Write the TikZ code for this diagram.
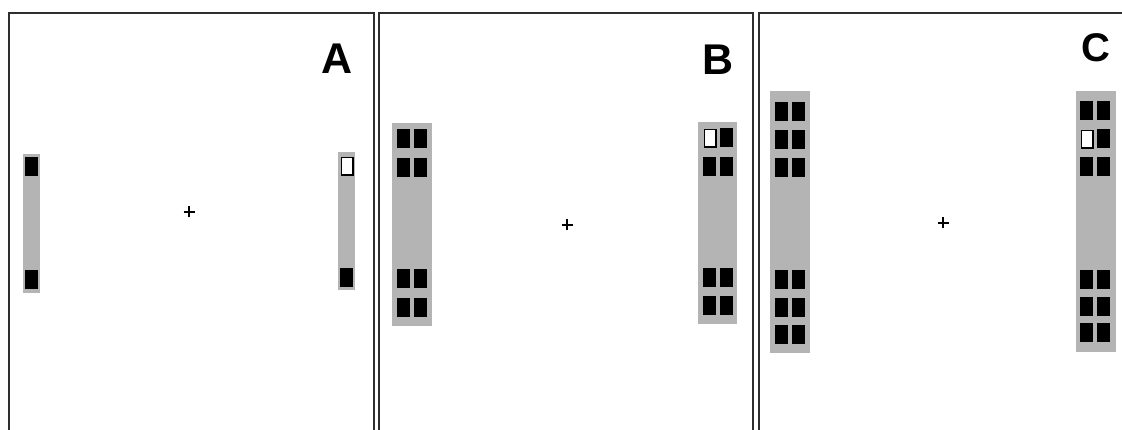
\documentclass[tikz,border=0pt]{standalone}
\usepackage{fontspec}
\setmainfont{Liberation Sans}
\usepackage{tikz}
\usetikzlibrary{calc,positioning}
\definecolor{framegray}{HTML}{2E2E2E}
\definecolor{bargray}{HTML}{B4B4B4}

\tikzset{
  panel/.style={rectangle, draw=framegray, line width=2pt, anchor=north west,
    inner sep=0pt, minimum height=440pt},
  bar/.style={rectangle, fill=bargray, anchor=north west, inner sep=0pt},
  pad/.style={rectangle, fill=black, anchor=north west, inner sep=0pt,
    minimum width=13pt, minimum height=19pt},
  emptypad/.style={rectangle, fill=white, draw=black, line width=1.6pt, anchor=north west,
    inner sep=0pt, minimum width=11.4pt, minimum height=17.4pt},
  letter/.style={font=\fontsize{43}{46}\selectfont\bfseries, inner sep=0pt},
  crossmark/.style={line width=1.7pt, black}
}

\begin{document}
\begin{tikzpicture}[x=1pt, y=-1pt]
  \useasboundingbox (0,0) rectangle (1122,430);
  \clip (0,0) rectangle (1122,430);

  % Panels
  \node[panel, minimum width=365pt] (panelA) at (8,12) {};
  \node[panel, minimum width=374pt] (panelB) at (378,12) {};
  \node[panel, minimum width=380pt] (panelC) at (758,12) {};

  % Labels
  \node[letter] (labelA) at (337,59) {A};
  \node[letter] (labelB) at (718,60) {B};
  \node[letter, font=\fontsize{40}{44}\selectfont\bfseries] (labelC) at (1096,48) {C};

  % Fixation crosses
  \coordinate (crossA) at (189,212);
  \coordinate (crossB) at (567,225);
  \coordinate (crossC) at (943,223);
  \foreach \c in {crossA,crossB,crossC}{
    \draw[crossmark] ([xshift=-5.5pt]\c) -- ([xshift=5.5pt]\c);
    \draw[crossmark] ([yshift=-5.5pt]\c) -- ([yshift=5.5pt]\c);
  }

  % A: single pads
  \node[bar, minimum width=17pt, minimum height=139pt] (barAL) at (23,154) {};
  \node[bar, minimum width=17pt, minimum height=138pt] (barAR) at (338,152) {};
  \foreach \dy in {3,116}
    \node[pad] (padAL-\dy) at ([xshift=2pt, yshift=-\dy pt]barAL.north west) {};
  \node[emptypad] (padAR-4) at ([xshift=2.8pt, yshift=-4.8pt]barAR.north west) {};
  \node[pad] (padAR-116) at ([xshift=2pt, yshift=-116pt]barAR.north west) {};

  % B: two rows on each end
  \node[bar, minimum width=40pt, minimum height=203pt] (barBL) at (392,123) {};
  \node[bar, minimum width=39pt, minimum height=202pt] (barBR) at (698,122) {};
  \foreach \dy in {6,35,146,175}
    \foreach \dx in {5,22}
      \node[pad] (padBL-\dx-\dy) at ([xshift=\dx pt, yshift=-\dy pt]barBL.north west) {};
  \node[emptypad] (padBR-5-6) at ([xshift=5.8pt, yshift=-6.8pt]barBR.north west) {};
  \foreach \dx/\dy in {22/6, 5/35, 22/35, 5/146, 22/146, 5/174, 22/174}
    \node[pad] (padBR-\dx-\dy) at ([xshift=\dx pt, yshift=-\dy pt]barBR.north west) {};

  % C: three rows on each end
  \node[bar, minimum width=40pt, minimum height=262pt] (barCL) at (770,91) {};
  \node[bar, minimum width=40pt, minimum height=261pt] (barCR) at (1076,91) {};
  \foreach \dy in {11,39,67,179,207,234}
    \foreach \dx in {5,22}
      \node[pad] (padCL-\dx-\dy) at ([xshift=\dx pt, yshift=-\dy pt]barCL.north west) {};
  \node[emptypad] (padCR-4-38) at ([xshift=4.8pt, yshift=-38.8pt]barCR.north west) {};
  \foreach \dx/\dy in {4/10, 21/10, 21/38, 4/66, 21/66, 4/179, 21/179, 4/206, 21/206, 4/232, 21/232}
    \node[pad] (padCR-\dx-\dy) at ([xshift=\dx pt, yshift=-\dy pt]barCR.north west) {};

\end{tikzpicture}
\end{document}
